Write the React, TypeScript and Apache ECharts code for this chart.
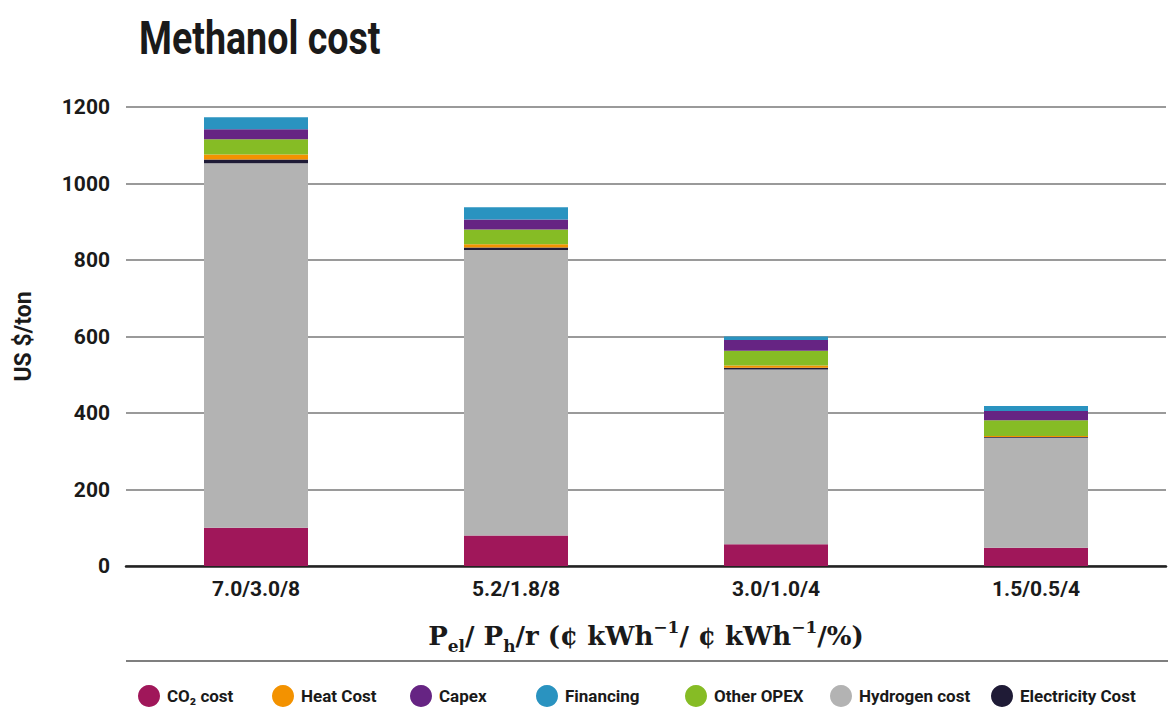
import React, { useEffect, useRef } from "react";
import * as echarts from "echarts";

const categories = ["7.0/3.0/8", "5.2/1.8/8", "3.0/1.0/4", "1.5/0.5/4"];
const co2Cost = [100, 80, 57, 48];
const hydrogenCost = [953, 746, 457, 287];
const electricityCost = [10, 7, 4, 2];
const heatCost = [13, 8, 6, 3];
const otherOpex = [40, 39, 39, 41];
const capex = [26, 26, 28, 24];
const financing = [31, 32, 9, 13];
const yTicks = { min: 0, max: 1200, interval: 200 };
const legendNames = ["CO₂ cost", "Heat Cost", "Capex", "Financing", "Other OPEX", "Hydrogen cost", "Electricity Cost"];

const FONT = "Roboto, 'Liberation Sans', sans-serif";
const SERIF = "'DejaVu Serif', 'Liberation Serif', serif";

export default function App() {
  const ref = useRef<HTMLDivElement>(null);
  useEffect(() => {
    document.body.style.margin = "0";
    const chart = echarts.init(ref.current!, null, { renderer: "svg" });
    const mk = (name: string, data: number[], color: string) => ({
      name,
      type: "bar",
      stack: "total",
      data,
      barWidth: "40%",
      itemStyle: { color },
      emphasis: { disabled: true },
    });
    const legendLefts = [133, 267, 405, 531, 680, 825, 986];
    chart.setOption({
      animation: false,
      backgroundColor: "#ffffff",
      grid: { left: 126, right: 4, top: 107, bottom: 147 },
      legend: legendNames.map((n, i) => ({
        bottom: 1,
        left: legendLefts[i],
        icon: "circle",
        itemWidth: 22,
        itemHeight: 22,
        itemGap: 0,
        textStyle: { fontFamily: FONT, fontWeight: "bold", fontSize: 17, color: "#1a1a1a", padding: [0, 0, 0, 2] },
        data: [n],
      })),
      xAxis: {
        type: "category",
        data: categories,
        axisTick: { show: false },
        axisLine: { lineStyle: { color: "#222", width: 2.5 } },
        axisLabel: { fontFamily: FONT, fontWeight: "bold", fontSize: 21, color: "#1a1a1a", margin: 12 },
        name: "{b|P}{sub|el}{b|/ P}{sub|h}{b|/r (¢ kWh}{sup|−1}{b|/ ¢ kWh}{sup|−1}{b|/%)}",
        nameLocation: "middle",
        nameGap: 52,
        nameTextStyle: {
          rich: {
            b: { fontFamily: SERIF, fontWeight: "bold", fontSize: 26, color: "#1a1a1a", verticalAlign: "middle", lineHeight: 36 },
            sub: { fontFamily: SERIF, fontWeight: "bold", fontSize: 17, color: "#1a1a1a", verticalAlign: "bottom", lineHeight: 32 },
            sup: { fontFamily: SERIF, fontWeight: "bold", fontSize: 17, color: "#1a1a1a", verticalAlign: "top", lineHeight: 32 },
          },
        },
      },
      yAxis: {
        type: "value",
        min: yTicks.min,
        max: yTicks.max,
        interval: yTicks.interval,
        name: "US $/ton",
        nameLocation: "middle",
        nameGap: 91,
        nameRotate: 90,
        nameTextStyle: { fontFamily: FONT, fontWeight: "bold", fontSize: 23, color: "#1a1a1a" },
        axisLabel: {
          fontFamily: FONT,
          fontWeight: "bold",
          fontSize: 21,
          color: "#1a1a1a",
          margin: 16,
          formatter: (v: number) => String(v),
        },
        splitLine: { lineStyle: { color: "#9a9a9a", width: 2 } },
        axisLine: { show: false },
        axisTick: { show: false },
      },
      graphic: [
        {
          type: "text",
          x: 139,
          y: 14,
          scaleX: 0.8,
          style: {
            text: "Methanol cost",
            fontFamily: FONT,
            fontWeight: "bold",
            fontSize: 47,
            fill: "#1a1a1a",
          },
        },
        {
          type: "line",
          shape: { x1: 126, y1: 661, x2: 1168, y2: 661 },
          style: { stroke: "#555", lineWidth: 1.5 },
        },
      ],
      series: [
        mk("CO₂ cost", co2Cost, "#a0175a"),
        mk("Hydrogen cost", hydrogenCost, "#b3b3b3"),
        mk("Electricity Cost", electricityCost, "#1f1b36"),
        mk("Heat Cost", heatCost, "#f39200"),
        mk("Other OPEX", otherOpex, "#86bc25"),
        mk("Capex", capex, "#662483"),
        mk("Financing", financing, "#2a93c0"),
      ],
    });
    return () => chart.dispose();
  }, []);
  return <div ref={ref} style={{ width: 1170, height: 713 }} />;
}
